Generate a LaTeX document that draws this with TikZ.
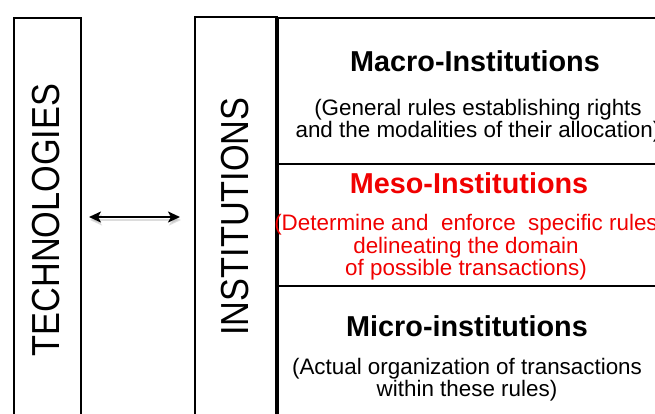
\documentclass[tikz,border=0pt]{standalone}
\usepackage{fontspec}
\setmainfont{Liberation Sans}
\usetikzlibrary{arrows.meta}
\begin{document}
\begin{tikzpicture}[x=1pt,y=-1pt,
  colbox/.style={draw=black, line width=2pt, inner sep=0pt, anchor=north west},
  panelbox/.style={draw=black, line width=2.2pt, inner sep=0pt, anchor=north west, minimum width=430pt},
  vlabel/.style={rotate=90, yscale=1.14, inner sep=0pt, font=\fontsize{34.3}{36}\selectfont},
  ttl/.style={inner sep=0pt, font=\fontsize{28.8}{30}\selectfont\bfseries},
  desc/.style={inner sep=0pt, align=center, font=\fontsize{22.4}{22.5}\selectfont},
  mesocol/.style={text={rgb,255:red,240;green,0;blue,0}},
  link/.style={line width=2.8pt, {Stealth[length=12pt,width=11pt,inset=3pt]}-{Stealth[length=12pt,width=11pt,inset=3pt]}}
]
\useasboundingbox (0,0) rectangle (655,413);
% columns
\node[colbox, minimum width=67pt, minimum height=430pt] (tech) at (13,17) {};
\node[colbox, minimum width=82pt, minimum height=430pt] (inst) at (194,16) {};
% right panel
\node[panelbox, minimum height=146pt] (macro) at (277,17) {};
\node[panelbox, minimum height=122pt] (meso) at (277,163) {};
\node[panelbox, minimum height=160pt] (micro) at (277,285) {};
\draw[line width=4pt] (macro.north west) -- (micro.south west);
% vertical labels
\node[vlabel] (techL) at (46.5,220) {TECHNOLOGIES};
\node[vlabel] (instL) at (235,216.5) {INSTITUTIONS};
% arrow
\coordinate (ay) at (0,217);
\coordinate (ays) at (0,220);
\draw[link, draw=black!30, opacity=0.45, shorten <=8pt, shorten >=13pt] (tech.east |- ays) -- (inst.west |- ays);
\draw[link, shorten <=7pt, shorten >=14pt] (tech.east |- ay) -- (inst.west |- ay);
% texts
\node[ttl] (macroT) at (475,61) {Macro-Institutions};
\node[desc] (macroD) at (478,120.5) {(General rules establishing rights\\and the modalities of their allocation)};
\node[ttl, mesocol] (mesoT) at (469,183) {Meso-Institutions};
\node[desc, mesocol] (mesoD) at (466,247.5) {(Determine and\ \ enforce\ \ specific rules\\delineating the\ domain\\of possible transactions)};
\node[ttl] (microT) at (467,326) {Micro-institutions};
\node[desc] (microD) at (467,379.5) {(Actual organization of transactions\\within these rules)};
\end{tikzpicture}
\end{document}
